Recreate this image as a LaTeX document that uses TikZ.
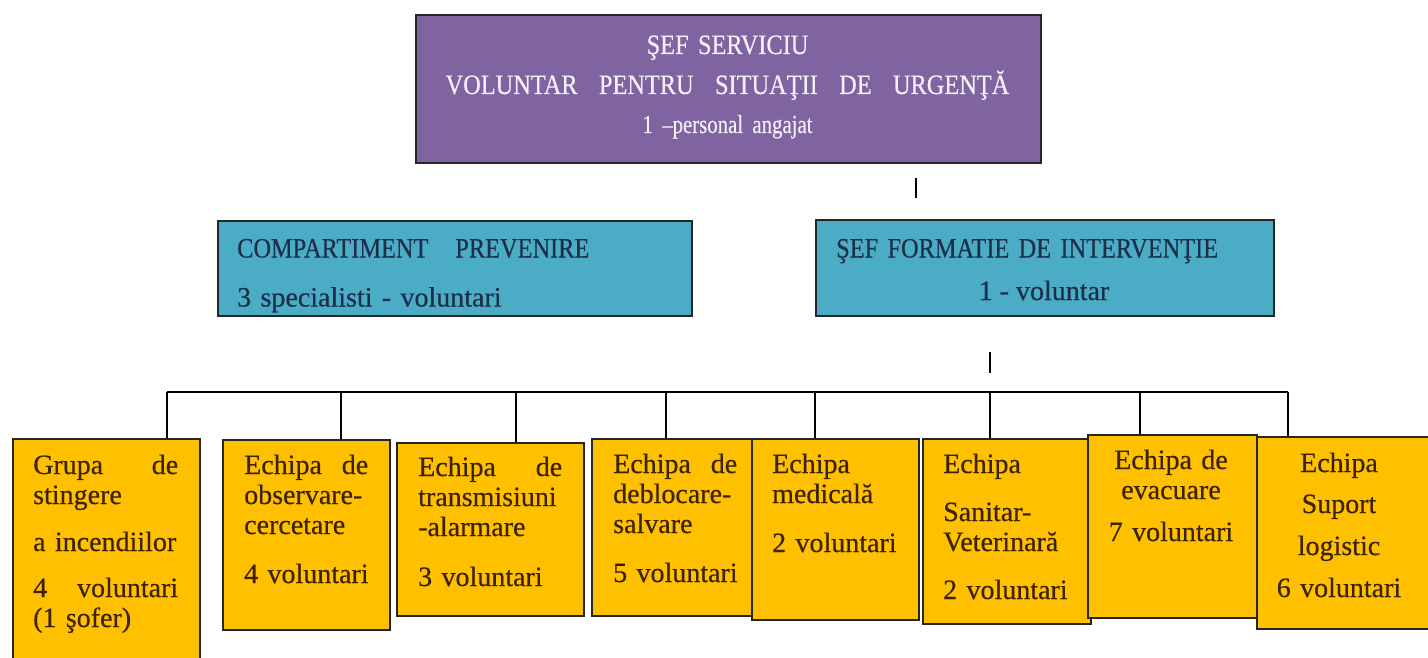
\documentclass[tikz,border=0pt]{standalone}
\usepackage{fontspec}
\setmainfont{Liberation Serif}[FakeBold=0.4]
\newfontfamily\capsf{Liberation Serif}[FakeStretch=0.87,FakeBold=0.4]
\newfontfamily\condf{Liberation Serif}[FakeStretch=0.8,FakeBold=0.3]
\definecolor{purpleF}{HTML}{8064A2}
\definecolor{purpleT}{HTML}{F4F0F8}
\definecolor{cyanF}{HTML}{4BACC6}
\definecolor{cyanT}{HTML}{1C2E4A}
\definecolor{orangeF}{HTML}{FFC000}
\definecolor{brownT}{HTML}{3B2200}
\definecolor{bordD}{HTML}{262626}
\newcommand{\jl}[3]{\leavevmode\hbox to #1{#2\hfill #3}}
\begin{document}
\begin{tikzpicture}[x=1pt,y=-1pt,
  pbox/.style={draw=bordD, line width=2pt, fill=purpleF, anchor=north west, inner sep=0pt},
  cbox/.style={draw=bordD, line width=1.8pt, fill=cyanF, anchor=north west, inner sep=0pt},
  obox/.style={draw=bordD, line width=1.8pt, fill=orangeF, anchor=north west, inner sep=0pt},
  ptxt/.style={anchor=base, inner sep=0pt, text=purpleT, align=center, text width=620pt, font=\fontsize{28}{40}\selectfont},
  ctxt/.style={anchor=base west, inner sep=0pt, text=cyanT, align=left, font=\fontsize{28}{40}\selectfont},
  otxt/.style={anchor=base west, inner sep=0pt, text=brownT, align=left, font=\fontsize{28}{30}\selectfont},
  octxt/.style={anchor=base, inner sep=0pt, text=brownT, align=center, font=\fontsize{28}{30}\selectfont},
  conn/.style={draw=black, line width=1.8pt}]
\useasboundingbox (0,0) rectangle (1428,658);
\clip (0,0) rectangle (1428,658);
\fill[white] (0,0) rectangle (1428,658);

% top box
\node[pbox, minimum width=625pt, minimum height=148pt] (top) at (415,14) {};
\node[ptxt] (topt) at (727.5,54) {{\capsf ŞEF SERVICIU}\\
  {\capsf VOLUNTAR\hspace{12pt} PENTRU\hspace{12pt} SITUAŢII\hspace{12pt} DE\hspace{12pt} URGENŢĂ}\\[-1pt]
  {\condf\fontsize{26}{40}\selectfont 1 –personal angajat}};

% middle boxes
\node[cbox, minimum width=474pt, minimum height=95pt] (prev) at (217,220) {};
\node[ctxt, text width=440pt] (prevt) at (237,257.5) {{\capsf COMPARTIMENT\hspace{27pt}PREVENIRE}\\[9pt]
  3 specialisti - voluntari};
\node[cbox, minimum width=458pt, minimum height=96pt] (sef) at (815,219) {};
\node[ctxt, text width=420pt] (seft) at (836,257.5) {\capsf ŞEF FORMATIE DE INTERVENŢIE};
\node[anchor=base, inner sep=0pt, text=cyanT, font=\fontsize{28}{30}\selectfont] (sefv) at (1044,300) {1 - voluntar};

% stubs
\coordinate (s1a) at (916,178);
\coordinate (s1b) at (916,198);
\draw[conn] (s1a) -- (s1b);
\coordinate (s2a) at (990,352);
\coordinate (s2b) at (990,373);
\draw[conn] (s2a) -- (s2b);

% bottom boxes
\node[obox, minimum width=187pt, minimum height=240pt] (b1) at (12,438) {};
\node[obox, minimum width=167pt, minimum height=190pt] (b2) at (222,439) {};
\node[obox, minimum width=187pt, minimum height=173pt] (b3) at (396,442) {};
\node[obox, minimum width=167pt, minimum height=181pt] (b5) at (751,438) {};
\node[obox, minimum width=160pt, minimum height=177pt] (b4) at (591,438) {};
\node[obox, minimum width=168pt, minimum height=185pt] (b6) at (922,438) {};
\node[obox, minimum width=169pt, minimum height=183pt] (b7) at (1087,434) {};
\node[obox, minimum width=180pt, minimum height=192pt] (b8) at (1256,436) {};

\node[otxt, text width=146pt] (t1) at (33,474) {\jl{145pt}{Grupa}{de}\\ stingere\\[17pt]
  a incendiilor\\[16pt] \jl{145pt}{4}{voluntari}\\ (1 şofer)};
\node[otxt, text width=126pt] (t2) at (244,474) {\jl{124pt}{Echipa}{de}\\ observare-\\ cercetare\\[19pt] 4 voluntari};
\node[otxt, text width=145pt] (t3) at (418,476) {\jl{144pt}{Echipa}{de}\\ transmisiuni\\ -alarmare\\[20pt] 3 voluntari};
\node[otxt, text width=125pt] (t4) at (613,473) {\jl{124pt}{Echipa}{de}\\ deblocare-\\ salvare\\[19pt] 5 voluntari};
\node[otxt, text width=130pt] (t5) at (772,473) {Echipa\\ medicală\\[19pt] 2 voluntari};
\node[otxt, text width=130pt] (t6) at (943,473) {Echipa\\[18pt] Sanitar-\\ Veterinară\\[18pt] 2 voluntari};
\node[octxt, text width=160pt] (t7) at (1171,469) {Echipa de\\ evacuare\\[12pt] 7 voluntari};
\node[octxt, text width=160pt] (t8) at (1339,472) {Echipa\\[11pt] Suport\\[12pt] logistic\\[12pt] 6 voluntari};

% bus and drops
\coordinate (d1) at (167,392);
\coordinate (d2) at (341,392);
\coordinate (d3) at (516,392);
\coordinate (d4) at (666,392);
\coordinate (d5) at (815,392);
\coordinate (d6) at (990,392);
\coordinate (d7) at (1140,392);
\coordinate (d8) at (1288,392);
\draw[conn] (d1) -- (d8);
\draw[conn] (d1) -- (d1 |- b1.north);
\draw[conn] (d2) -- (d2 |- b2.north);
\draw[conn] (d3) -- (d3 |- b3.north);
\draw[conn] (d4) -- (d4 |- b4.north);
\draw[conn] (d5) -- (d5 |- b5.north);
\draw[conn] (d6) -- (d6 |- b6.north);
\draw[conn] (d7) -- (d7 |- b7.north);
\draw[conn] (d8) -- (d8 |- b8.north);
\end{tikzpicture}
\end{document}
